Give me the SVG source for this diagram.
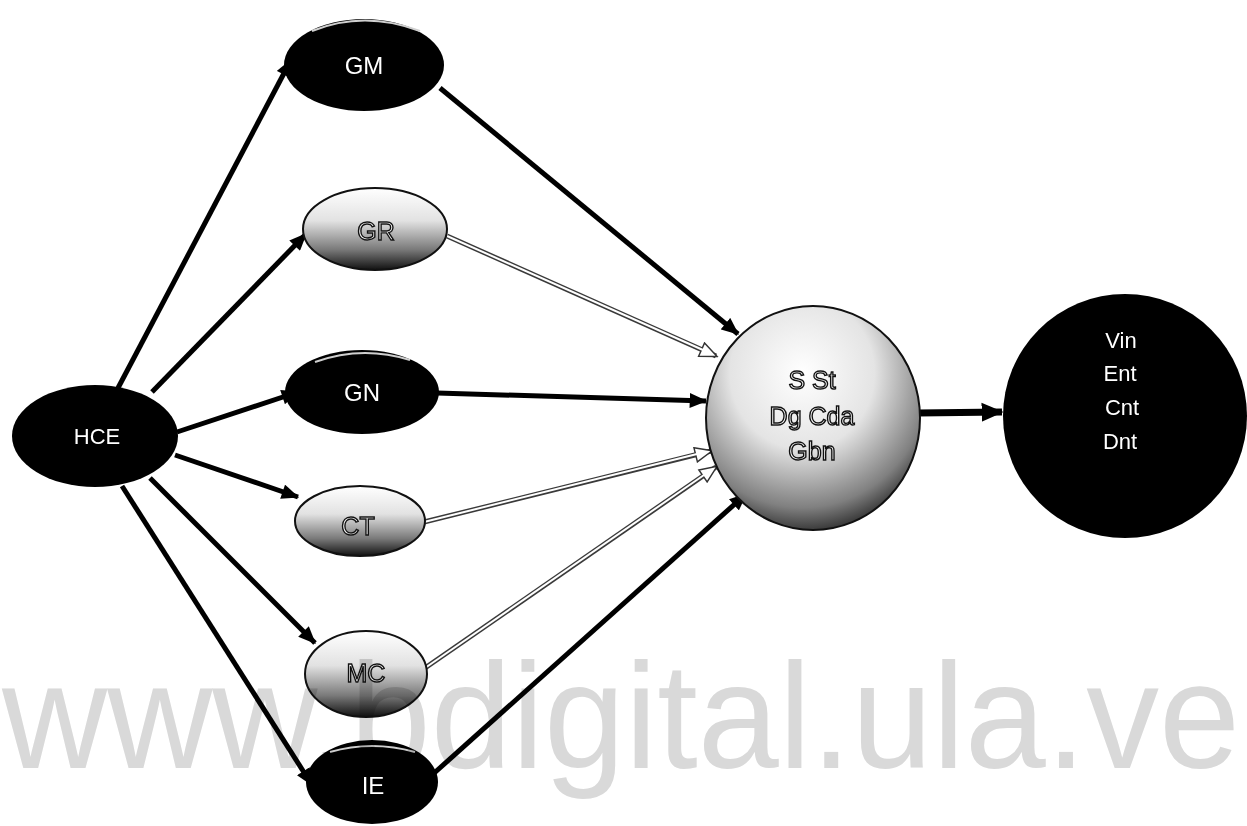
<svg xmlns="http://www.w3.org/2000/svg" width="1247" height="826" viewBox="0 0 1247 826">
  <defs>
    <linearGradient id="lightNode" x1="0" y1="0" x2="0" y2="1">
      <stop offset="0" stop-color="#ffffff"/>
      <stop offset="0.4" stop-color="#e2e2e2"/>
      <stop offset="0.75" stop-color="#7a7a7a"/>
      <stop offset="1" stop-color="#111111"/>
    </linearGradient>
    <radialGradient id="centerGrad" cx="0.45" cy="0.3" r="0.75">
      <stop offset="0" stop-color="#ffffff"/>
      <stop offset="0.45" stop-color="#e4e4e4"/>
      <stop offset="0.8" stop-color="#808080"/>
      <stop offset="1" stop-color="#1a1a1a"/>
    </radialGradient>
    <marker id="arrowBlack" viewBox="0 0 14 12" refX="13" refY="6" markerWidth="18" markerHeight="15" markerUnits="userSpaceOnUse" orient="auto">
      <path d="M0,0 L14,6 L0,12 z" fill="#000"/>
    </marker>
    <marker id="arrowBig" viewBox="0 0 14 12" refX="13" refY="6" markerWidth="22" markerHeight="20" markerUnits="userSpaceOnUse" orient="auto">
      <path d="M0,0 L14,6 L0,12 z" fill="#000"/>
    </marker>
    <marker id="arrowHollow" viewBox="-1 -1 16 14" refX="13" refY="6" markerWidth="20" markerHeight="17" markerUnits="userSpaceOnUse" orient="auto">
      <path d="M0,0 L14,6 L0,12 z" fill="#fff" stroke="#333" stroke-width="1.2"/>
    </marker>
  </defs>
  <style>
    .solid { stroke: #000; stroke-width: 5; fill: none; marker-end: url(#arrowBlack); }
    .hollowOut { stroke: #3a3a3a; stroke-width: 5; fill: none; marker-end: url(#arrowHollow); }
    .hollowIn { stroke: #fff; stroke-width: 2; fill: none; }
    .dark { fill: #000; }
    .hl { fill: none; stroke: #cfcfcf; stroke-width: 2; }
    .light { fill: url(#lightNode); stroke: #111; stroke-width: 2; }
    .lbl { font-family: "Liberation Sans", Arial, sans-serif; font-size: 22px; fill: #fff; text-anchor: middle; }
    .olbl { font-family: "Liberation Sans", Arial, sans-serif; font-size: 25px; fill: #fff; stroke: #111; stroke-width: 1.4; text-anchor: middle; }
    .wm { font-family: "Liberation Sans", Arial, sans-serif; font-size: 150px; fill: #d9d9d9; mix-blend-mode: multiply; }
  </style>
  <rect width="1247" height="826" fill="#fff"/>

  <g id="connectors">
    <line class="solid" x1="118" y1="388" x2="291" y2="60"/>
    <line class="solid" x1="152" y1="392" x2="306" y2="234"/>
    <line class="solid" x1="177" y1="432" x2="298" y2="392"/>
    <line class="solid" x1="175" y1="455" x2="298" y2="497"/>
    <line class="solid" x1="150" y1="478" x2="315" y2="643"/>
    <line class="solid" x1="122" y1="486" x2="312" y2="785"/>
    <line class="solid" x1="440" y1="88" x2="738" y2="334"/>
    <line class="hollowOut" x1="447" y1="236" x2="716" y2="356"/>
    <line class="hollowIn" x1="447" y1="236" x2="703" y2="350"/>
    <line class="solid" x1="437" y1="393" x2="706" y2="401"/>
    <line class="hollowOut" x1="424" y1="522" x2="711" y2="451"/>
    <line class="hollowIn" x1="424" y1="522" x2="697" y2="454"/>
    <line class="hollowOut" x1="425" y1="668" x2="716" y2="467"/>
    <line class="hollowIn" x1="425" y1="668" x2="704" y2="475"/>
    <line class="solid" x1="432" y1="775" x2="746" y2="494"/>
    <line x1="918" y1="413" x2="1002" y2="412" stroke="#000" stroke-width="7" marker-end="url(#arrowBig)"/>
  </g>

  <g id="node-HCE">
    <ellipse class="dark" cx="95" cy="436" rx="83" ry="51"/>
    <text class="lbl" x="97" y="444">HCE</text>
  </g>
  <g id="node-GM">
    <ellipse class="dark" cx="364" cy="65" rx="80" ry="46"/>
    <path class="hl" d="M312,31 Q364,10 420,31"/>
    <text class="lbl" x="364" y="74" style="font-size:24px">GM</text>
  </g>
  <g id="node-GR">
    <ellipse class="light" cx="375" cy="229" rx="72" ry="41"/>
    <text class="olbl" x="376" y="240">GR</text>
  </g>
  <g id="node-GN">
    <ellipse class="dark" cx="362" cy="392" rx="77" ry="42"/>
    <path class="hl" d="M315,362 Q362,345 410,360"/>
    <text class="lbl" x="362" y="401" style="font-size:24px">GN</text>
  </g>
  <g id="node-CT">
    <ellipse class="light" cx="360" cy="521" rx="65" ry="35"/>
    <text class="olbl" x="358" y="535">CT</text>
  </g>
  <g id="node-MC">
    <ellipse class="light" cx="366" cy="674" rx="61" ry="43"/>
    <text class="olbl" x="366" y="682">MC</text>
  </g>
  <g id="node-IE">
    <ellipse class="dark" cx="372" cy="782" rx="66" ry="42"/>
    <path class="hl" d="M330,752 Q372,740 415,752"/>
    <text class="lbl" x="373" y="794" style="font-size:24px">IE</text>
  </g>
  <g id="node-center">
    <ellipse cx="813" cy="418" rx="107" ry="112" fill="url(#centerGrad)" stroke="#111" stroke-width="2"/>
    <text class="olbl" x="812" y="389">S St</text>
    <text class="olbl" x="812" y="425">Dg Cda</text>
    <text class="olbl" x="812" y="460">Gbn</text>
  </g>
  <g id="node-right">
    <circle cx="1125" cy="416" r="122" fill="#000"/>
    <text class="lbl" x="1121" y="348">Vin</text>
    <text class="lbl" x="1120" y="381">Ent</text>
    <text class="lbl" x="1122" y="415">Cnt</text>
    <text class="lbl" x="1120" y="449">Dnt</text>
  </g>

  <text class="wm" x="2" y="768" textLength="1238" lengthAdjust="spacingAndGlyphs">www.bdigital.ula.ve</text>
</svg>
